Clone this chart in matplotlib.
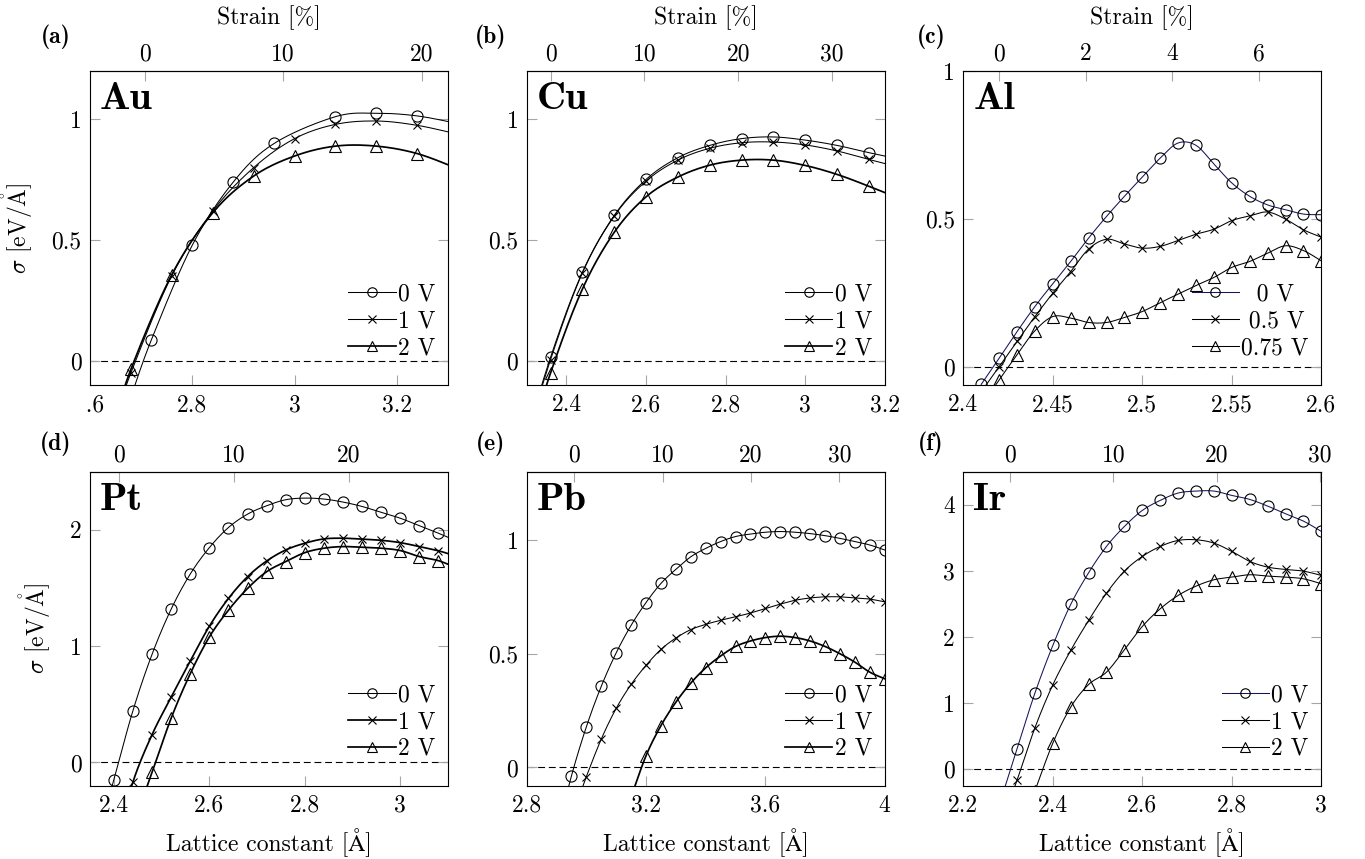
import numpy as np
import matplotlib
matplotlib.use("Agg")
import matplotlib.pyplot as plt
from matplotlib.lines import Line2D
from matplotlib.ticker import FixedLocator, FuncFormatter
from matplotlib.transforms import Bbox, TransformedBbox

plt.rcParams.update({
    "font.family": ["cmr10", "STIXGeneral", "DejaVu Serif"],
    "mathtext.fontset": "cm",
    "axes.unicode_minus": False,
    "axes.formatter.use_mathtext": True,
    "font.size": 17,
})

# ---------------- data ----------------
# (a) Au
au_x0 = [2.68, 2.72, 2.80, 2.88, 2.96, 3.08, 3.16, 3.24, 3.32]
au_y0 = [-0.15, 0.087, 0.479, 0.740, 0.900, 1.011, 1.025, 1.014, 0.982]
au_x1 = [2.64, 2.68, 2.76, 2.84, 2.92, 3.00, 3.08, 3.16, 3.24, 3.32]
au_y1 = [-0.30, -0.05, 0.353, 0.620, 0.800, 0.920, 0.979, 0.993, 0.975, 0.938]
au_x2 = [2.64, 2.68, 2.76, 2.84, 2.92, 3.00, 3.08, 3.16, 3.24, 3.32]
au_y2 = [-0.30, -0.035, 0.357, 0.613, 0.765, 0.848, 0.889, 0.889, 0.858, 0.795]

# (b) Cu
cu_x = [2.28, 2.36, 2.44, 2.52, 2.60, 2.68, 2.76, 2.84, 2.92, 3.00, 3.08, 3.16, 3.24]
cu_y0 = [-0.42, 0.015, 0.367, 0.602, 0.751, 0.841, 0.892, 0.920, 0.927, 0.914, 0.892, 0.862, 0.834]
cu_y1 = [-0.43, 0.005, 0.364, 0.599, 0.744, 0.831, 0.880, 0.903, 0.906, 0.894, 0.869, 0.834, 0.800]
cu_y2 = [-0.47, -0.050, 0.297, 0.532, 0.679, 0.761, 0.810, 0.831, 0.831, 0.809, 0.772, 0.723, 0.670]

# (c) Al
al_x = [2.41, 2.42, 2.43, 2.44, 2.45, 2.46, 2.47, 2.48, 2.49, 2.50,
        2.51, 2.52, 2.53, 2.54, 2.55, 2.56, 2.57, 2.58, 2.59, 2.60]
al_y0 = [-0.058, 0.030, 0.120, 0.205, 0.282, 0.357, 0.436, 0.509, 0.577, 0.642,
         0.706, 0.757, 0.749, 0.686, 0.622, 0.577, 0.548, 0.532, 0.517, 0.515]
al_y1 = [-0.083, 0.002, 0.087, 0.171, 0.250, 0.323, 0.399, 0.432, 0.416, 0.402,
         0.408, 0.428, 0.449, 0.466, 0.495, 0.511, 0.524, 0.500, 0.464, 0.439]
al_y2 = [-0.130, -0.043, 0.042, 0.123, 0.171, 0.166, 0.151, 0.151, 0.168, 0.188,
         0.218, 0.247, 0.276, 0.303, 0.337, 0.357, 0.385, 0.410, 0.394, 0.359]

# (d) Pt
pt_x0 = [2.36, 2.40, 2.44, 2.48, 2.52, 2.56, 2.60, 2.64, 2.68, 2.72, 2.76,
         2.80, 2.84, 2.88, 2.92, 2.96, 3.00, 3.04, 3.08, 3.12]
pt_y0 = [-0.75, -0.15, 0.446, 0.930, 1.318, 1.620, 1.847, 2.020, 2.135, 2.207, 2.259,
         2.273, 2.265, 2.239, 2.201, 2.150, 2.100, 2.035, 1.971, 1.900]
pt_x1 = [2.40, 2.44, 2.48, 2.52, 2.56, 2.60, 2.64, 2.68, 2.72, 2.76,
         2.80, 2.84, 2.88, 2.92, 2.96, 3.00, 3.04, 3.08, 3.12]
pt_y1 = [-0.75, -0.167, 0.239, 0.561, 0.872, 1.171, 1.410, 1.597, 1.732, 1.827,
         1.885, 1.922, 1.928, 1.920, 1.910, 1.890, 1.856, 1.820, 1.770]
pt_x2 = [2.44, 2.48, 2.52, 2.56, 2.60, 2.64, 2.68, 2.72, 2.76,
         2.80, 2.84, 2.88, 2.92, 2.96, 3.00, 3.04, 3.08, 3.12]
pt_y2 = [-0.55, -0.086, 0.380, 0.763, 1.079, 1.309, 1.496, 1.640, 1.727,
         1.804, 1.842, 1.856, 1.850, 1.842, 1.822, 1.770, 1.735, 1.670]

# (e) Pb
pb_x0 = [2.90, 2.95, 3.00, 3.05, 3.10, 3.15, 3.20, 3.25, 3.30, 3.35, 3.40, 3.45,
         3.50, 3.55, 3.60, 3.65, 3.70, 3.75, 3.80, 3.85, 3.90, 3.95, 4.00]
pb_y0 = [-0.30, -0.037, 0.179, 0.357, 0.504, 0.625, 0.725, 0.809, 0.871, 0.926, 0.963, 0.993,
         1.015, 1.026, 1.034, 1.037, 1.034, 1.028, 1.019, 1.007, 0.993, 0.978, 0.956]
pb_x1 = [2.95, 3.00, 3.05, 3.10, 3.15, 3.20, 3.25, 3.30, 3.35, 3.40, 3.45,
         3.50, 3.55, 3.60, 3.65, 3.70, 3.75, 3.80, 3.85, 3.90, 3.95, 4.00]
pb_y1 = [-0.22, -0.040, 0.125, 0.260, 0.365, 0.449, 0.519, 0.569, 0.606, 0.629, 0.647,
         0.662, 0.679, 0.699, 0.718, 0.735, 0.745, 0.750, 0.750, 0.745, 0.740, 0.728]
pb_x2 = [3.15, 3.20, 3.25, 3.30, 3.35, 3.40, 3.45, 3.50, 3.55, 3.60,
         3.65, 3.70, 3.75, 3.80, 3.85, 3.90, 3.95, 4.00]
pb_y2 = [-0.13, 0.052, 0.184, 0.287, 0.371, 0.438, 0.490, 0.532, 0.556, 0.571,
         0.577, 0.571, 0.556, 0.532, 0.500, 0.463, 0.419, 0.390]

# (f) Ir
ir_x = [2.28, 2.32, 2.36, 2.40, 2.44, 2.48, 2.52, 2.56, 2.60, 2.64, 2.68,
        2.72, 2.76, 2.80, 2.84, 2.88, 2.92, 2.96, 3.00]
ir_y0 = [-0.55, 0.308, 1.150, 1.871, 2.492, 2.971, 3.370, 3.672, 3.914, 4.066, 4.177,
         4.207, 4.207, 4.141, 4.081, 3.980, 3.864, 3.753, 3.597]
ir_y1 = [-0.95, -0.170, 0.625, 1.276, 1.796, 2.250, 2.663, 2.996, 3.218, 3.369, 3.460,
         3.470, 3.420, 3.294, 3.143, 3.057, 3.021, 2.996, 2.931]
ir_x2 = [2.36, 2.40, 2.44, 2.48, 2.52, 2.56, 2.60, 2.64, 2.68,
         2.72, 2.76, 2.80, 2.84, 2.88, 2.92, 2.96, 3.00]
ir_y2 = [-0.33, 0.393, 0.938, 1.281, 1.468, 1.806, 2.159, 2.426, 2.628,
         2.769, 2.865, 2.905, 2.941, 2.921, 2.905, 2.880, 2.805]

# tick values
au_xt, au_yt, au_st = [2.6, 2.8, 3.0, 3.2], [0, 0.5, 1], [0, 10, 20]
cu_xt, cu_yt, cu_st = [2.4, 2.6, 2.8, 3.0, 3.2], [0, 0.5, 1], [0, 10, 20, 30]
al_xt, al_yt, al_st = [2.4, 2.45, 2.5, 2.55, 2.6], [0, 0.5, 1], [0, 2, 4, 6]
pt_xt, pt_yt, pt_st = [2.4, 2.6, 2.8, 3.0], [0, 1, 2], [0, 10, 20]
pb_xt, pb_yt, pb_st = [2.8, 3.2, 3.6, 4.0], [0, 0.5, 1], [0, 10, 20, 30]
ir_xt, ir_yt, ir_st = [2.2, 2.4, 2.6, 2.8, 3.0], [0, 1, 2, 3, 4], [0, 10, 20, 30]

labels_v = ["0 V", "1 V", "2 V"]
labels_al = ["  0 V", " 0.5 V", "0.75 V"]
panel_tags = ["(a)", "(b)", "(c)", "(d)", "(e)", "(f)"]
elements = ["Au", "Cu", "Al", "Pt", "Pb", "Ir"]

# ---------------- style ----------------
NAVY = "#14145c"
TICKC = "#a6a6a6"
THIN, THICK = 0.75, 1.25
MARKERS = ["o", "x", "^"]
MSIZE = {"o": 8, "x": 6, "^": 8.5}
FS = 17

panels = [
    dict(series=[(au_x0, au_y0, "k", THIN), (au_x1, au_y1, "k", THIN), (au_x2, au_y2, "k", THICK)],
         labels=labels_v, xlim=(2.6, 3.3), ylim=(-0.1, 1.2), xt=au_xt, yt=au_yt, st=au_st, a0=2.707),
    dict(series=[(cu_x, cu_y0, "k", THIN), (cu_x, cu_y1, "k", THIN), (cu_x, cu_y2, "k", THICK)],
         labels=labels_v, xlim=(2.3, 3.2), ylim=(-0.1, 1.2), xt=cu_xt, yt=cu_yt, st=cu_st, a0=2.36),
    dict(series=[(al_x, al_y0, NAVY, THIN), (al_x, al_y1, "k", THIN), (al_x, al_y2, "k", THIN)],
         labels=labels_al, xlim=(2.4, 2.6), ylim=(-0.06, 1.0), xt=al_xt, yt=al_yt, st=al_st, a0=2.42),
    dict(series=[(pt_x0, pt_y0, "k", THIN), (pt_x1, pt_y1, "k", THICK), (pt_x2, pt_y2, "k", THICK)],
         labels=labels_v, xlim=(2.35, 3.1), ylim=(-0.2, 2.5), xt=pt_xt, yt=pt_yt, st=pt_st, a0=2.41),
    dict(series=[(pb_x0, pb_y0, "k", THIN), (pb_x1, pb_y1, "k", THIN), (pb_x2, pb_y2, "k", THICK)],
         labels=labels_v, xlim=(2.8, 4.0), ylim=(-0.08, 1.3), xt=pb_xt, yt=pb_yt, st=pb_st, a0=2.96),
    dict(series=[(ir_x, ir_y0, NAVY, THIN), (ir_x, ir_y1, "k", THIN), (ir_x2, ir_y2, "k", THIN)],
         labels=labels_v, xlim=(2.2, 3.0), ylim=(-0.25, 4.5), xt=ir_xt, yt=ir_yt, st=ir_st, a0=2.305),
]


def smooth(x, y, n=20):
    """Catmull-Rom style smooth path through the given points (like pgfplots 'smooth')."""
    P = np.column_stack([x, y]).astype(float)
    E = np.vstack([P[0], P, P[-1]])
    out = []
    m = len(P) - 1
    for i in range(m):
        p0, p1, p2, p3 = E[i], E[i + 1], E[i + 2], E[i + 3]
        c1 = p1 + (p2 - p0) / 6.0
        c2 = p2 - (p3 - p1) / 6.0
        t = np.linspace(0, 1, n, endpoint=(i == m - 1))[:, None]
        B = (1 - t) ** 3 * p1 + 3 * (1 - t) ** 2 * t * c1 + 3 * (1 - t) * t ** 2 * c2 + t ** 3 * p2
        out.append(B)
    B = np.vstack(out)
    return B[:, 0], B[:, 1]


fmt = FuncFormatter(lambda v, pos: "%g" % round(v, 6))

W, H = 1365, 859
fig = plt.figure(figsize=(W / 100, H / 100), dpi=100)
col_left = [90, 526.7, 963.3]
row_top = [71, 471.7]
aw, ah = 358, 314
tag_x = [56, 491, 931]
tag_y = [37, 444]

axes = []
for i, p in enumerate(panels):
    r, c = divmod(i, 3)
    ax = fig.add_axes([col_left[c] / W, 1 - (row_top[r] + ah) / H, aw / W, ah / H])
    axes.append(ax)
    ax.axhline(0, color="k", lw=0.8, ls=(0, (6.2, 3.4)), zorder=1)
    handles = []
    for k, (x, y, col, lw) in enumerate(p["series"]):
        sx, sy = smooth(x, y)
        ax.plot(sx, sy, color=col, lw=lw, zorder=2)
        mk = MARKERS[k]
        ax.plot(x, y, ls="none", marker=mk, ms=MSIZE[mk], mfc="none", mec="k",
                mew=0.8, zorder=3)
        handles.append(Line2D([], [], color=col, lw=lw, marker=mk, ms=MSIZE[mk] * 0.85,
                              mfc="none", mec="k", mew=0.8))
    ax.set_xlim(*p["xlim"])
    ax.set_ylim(*p["ylim"])
    ax.xaxis.set_major_locator(FixedLocator(p["xt"]))
    ax.yaxis.set_major_locator(FixedLocator(p["yt"]))
    ax.xaxis.set_major_formatter(fmt)
    ax.yaxis.set_major_formatter(fmt)
    ax.tick_params(axis="x", direction="in", top=False, bottom=True, length=7,
                   width=0.8, color=TICKC, pad=6.5, labelsize=FS)
    ax.tick_params(axis="y", direction="in", left=True, right=True, length=7,
                   width=0.8, color=TICKC, pad=6, labelsize=FS)
    for s in ax.spines.values():
        s.set_linewidth(0.8)

    a0 = p["a0"]
    sec = ax.secondary_xaxis("top", functions=(lambda a, a0=a0: (np.asarray(a) / a0 - 1) * 100,
                                               lambda s, a0=a0: a0 * (1 + np.asarray(s) / 100)))
    sec.xaxis.set_major_locator(FixedLocator(p["st"]))
    sec.xaxis.set_major_formatter(fmt)
    sec.tick_params(direction="in", length=7, width=0.8, color=TICKC, pad=4, labelsize=FS)
    sec.spines["top"].set_linewidth(0.8)
    if r == 0:
        sec.set_xlabel("Strain [%]", fontsize=FS, labelpad=14)
    else:
        ax.set_xlabel("Lattice constant [Å]", fontsize=FS, labelpad=8)
    if c == 0:
        ax.set_ylabel(r"$\sigma$ [eV/$\mathrm{\mathring{A}}$]", fontsize=FS, labelpad=12)

    ax.annotate(elements[i], xy=(0, 1), xycoords="axes fraction", xytext=(10, -11),
                textcoords="offset pixels", ha="left", va="top",
                fontsize=29, family="cmb10")
    leg = ax.legend(handles, p["labels"], loc="lower right", bbox_to_anchor=(0.965, 0.082),
                    frameon=False, fontsize=FS, handlelength=2.0, handletextpad=0.1,
                    labelspacing=0.2, borderpad=0, borderaxespad=0)
    fig.text(tag_x[c] / W, 1 - tag_y[r] / H, panel_tags[i], ha="center", va="center",
             fontsize=17, family="cmb10")

# clip the leftmost bottom tick label of panel (a) like the reference
fig.canvas.draw()
clipbox = TransformedBbox(Bbox([[87 / W, 0], [1, 1]]), fig.transFigure)
for t in axes[0].xaxis.get_major_ticks():
    if abs(t.get_loc() - 2.6) < 1e-6:
        t.label1.set_clip_on(True)
        t.label1.set_clip_box(clipbox)

fig.savefig("out.png", dpi=100)
